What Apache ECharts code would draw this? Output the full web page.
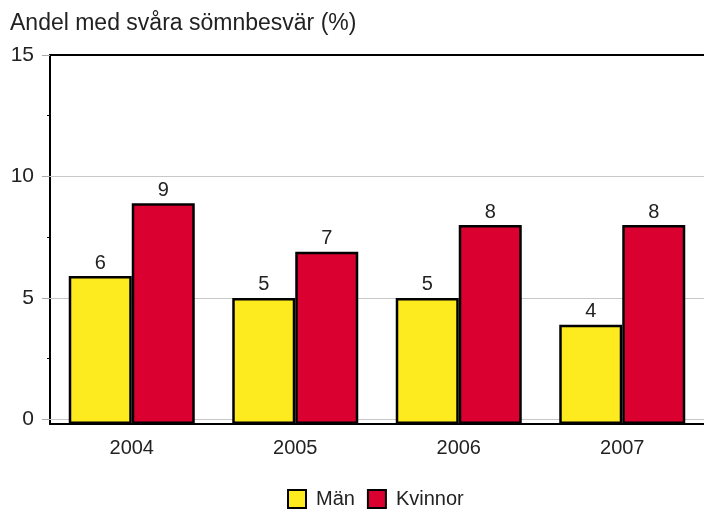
<!DOCTYPE html>
<html>
<head>
<meta charset="utf-8">
<script src="https://cdn.jsdelivr.net/npm/echarts@6/dist/echarts.min.js"></script>
<style>html,body{margin:0;padding:0;background:#fff}#c{width:704px;height:509px}</style>
</head>
<body>
<div id="c"></div>
<script>
const categories = ['2004', '2005', '2006', '2007'];
const manValues = [5.9, 5.0, 5.0, 3.9];
const kvinnorValues = [8.9, 6.9, 8.0, 8.0];
const seriesNames = ['Män', 'Kvinnor'];
const yTickLabels = [0, 5, 10, 15];
const yMinorTicks = [2.5, 7.5, 12.5];
const gridValues = [0, 5, 10];

const FONT = '"Liberation Sans", Arial, sans-serif';
const Y_MIN = -0.19;
const chart = echarts.init(document.getElementById('c'), null, {renderer: 'canvas'});
const labelCfg = {
  show: true, position: 'top', distance: 3, color: '#222', fontSize: 20, fontFamily: FONT,
  formatter: p => String(Math.round(p.value))
};
chart.setOption({
  animation: false,
  backgroundColor: '#fff',
  title: {
    text: 'Andel med svåra sömnbesvär (%)', left: 5, top: 7,
    textStyle: {fontSize: 23, fontWeight: 'normal', color: '#222', fontFamily: FONT}
  },
  legend: {
    data: seriesNames, left: 282, top: 484, icon: 'rect', itemWidth: 18, itemHeight: 18, itemGap: 12,
    textStyle: {fontSize: 20, color: '#222', fontFamily: FONT, padding: [0, 0, 0, 5]},
    itemStyle: {borderColor: '#000', borderWidth: 2}
  },
  grid: {left: 50, top: 55, width: 658, height: 369, containLabel: false},
  xAxis: [{
    type: 'category', data: categories, position: 'bottom',
    axisLine: {onZero: false, lineStyle: {color: '#000', width: 2}},
    axisTick: {alignWithLabel: true, length: 5, lineStyle: {color: '#000'}},
    axisLabel: {fontSize: 20, color: '#222', fontFamily: FONT, margin: 14}
  }, {
    type: 'category', data: categories, position: 'top',
    axisLine: {onZero: false, lineStyle: {color: '#000', width: 2}},
    axisTick: {show: false}, axisLabel: {show: false}
  }],
  yAxis: [{
    type: 'value', min: Y_MIN, max: 15, startValue: Y_MIN, position: 'left',
    axisLine: {show: true, onZero: false, lineStyle: {color: '#000', width: 2}},
    axisTick: {show: true, customValues: yTickLabels, length: 8, lineStyle: {color: '#aaa'}},
    axisLabel: {customValues: yTickLabels, fontSize: 21, color: '#222', fontFamily: FONT, margin: 16},
    splitLine: {show: false}
  }, {
    type: 'value', min: Y_MIN, max: 15, position: 'left',
    axisLine: {show: false, onZero: false},
    axisTick: {show: true, customValues: yMinorTicks, length: 3, lineStyle: {color: '#000'}},
    axisLabel: {show: false},
    splitLine: {show: false}
  }],
  series: [{
    name: seriesNames[0], type: 'bar', data: manValues, barWidth: 63, barGap: '0%',
    itemStyle: {color: '#FDEB1F', borderColor: '#000', borderWidth: 2.5},
    label: labelCfg,
    markLine: {
      silent: true, symbol: 'none', label: {show: false}, z: 1,
      lineStyle: {color: '#c8c8c8', width: 1, type: 'solid'},
      data: gridValues.map(v => ({yAxis: v}))
    },
    z: 3
  }, {
    name: seriesNames[1], type: 'bar', data: kvinnorValues, barWidth: 63, barGap: '0%',
    itemStyle: {color: '#DA0030', borderColor: '#000', borderWidth: 2.5},
    label: labelCfg,
    z: 3
  }]
});
</script>
</body>
</html>
